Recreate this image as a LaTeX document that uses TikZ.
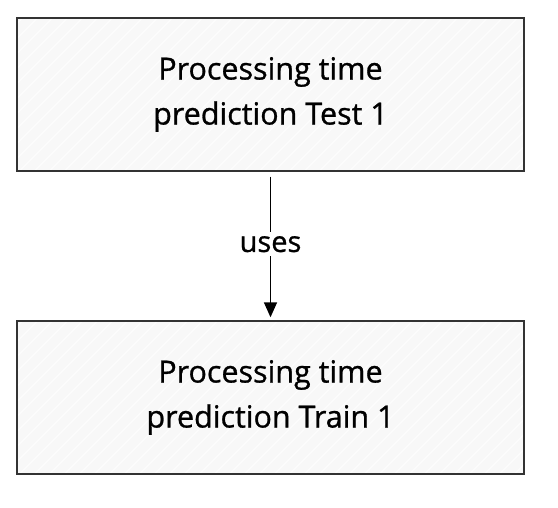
\documentclass[tikz,border=0pt]{standalone}
\usepackage{fontspec}
\setmainfont{Open Sans}
\newfontfamily\medfont{Open Sans}[FakeBold=0.9]
\usetikzlibrary{arrows.meta}
\definecolor{boxfill}{HTML}{F8F8F8}
\definecolor{stroke}{HTML}{333333}
\begin{document}
\begin{tikzpicture}[x=1pt,y=-1pt,
  procbox/.style={draw=none,fill=boxfill,minimum width=507pt,minimum height=152pt,inner sep=0pt,align=center,font=\medfont\fontsize{30.5}{45}\selectfont},
  border/.style={draw=stroke,line width=2.2pt},
  hatch/.style={white,line width=1pt,opacity=0.8},
  conn/.style={draw=black,line width=1.5pt,-{Triangle[length=15pt,width=13pt]}},
  lbl/.style={fill=white,font=\medfont\fontsize{29}{30}\selectfont,inner sep=4pt}]
\useasboundingbox (0,0) rectangle (558,508);
\node[procbox] (test) at (270.5,94.5) {};
\node[procbox] (train) at (270.5,397.5) {};
\foreach \b in {test,train} {
  \begin{scope}
    \clip (\b.south west) rectangle (\b.north east);
    \foreach \i in {-200,-185,...,560} {\draw[hatch] ([xshift=\i pt-17pt,yshift=-10pt]\b.south west) -- ++(170,-170);}
  \end{scope}
  \draw[border] (\b.south west) rectangle (\b.north east);
}
\node[procbox,fill=none] at (test) {Processing time\\prediction Test 1};
\node[procbox,fill=none] at (train) {Processing time\\prediction Train 1};
\draw[conn] ([yshift=-6pt]test.south) -- ([yshift=4pt]train.north) node[pos=0.48,lbl] (uses) {uses};
\end{tikzpicture}
\end{document}
